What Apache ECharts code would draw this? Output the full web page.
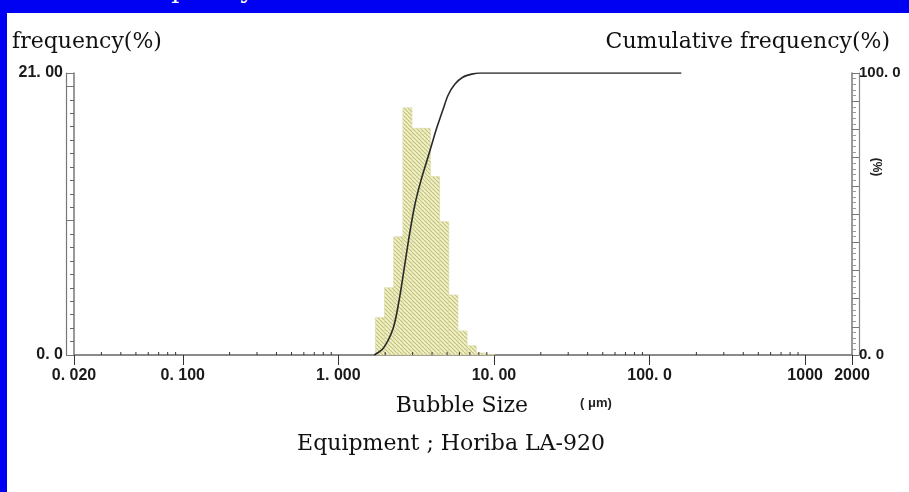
<!DOCTYPE html>
<html><head><meta charset="utf-8">
<script src="https://cdn.jsdelivr.net/npm/echarts@6/dist/echarts.min.js"></script>
<style>
html,body{margin:0;padding:0;width:909px;height:492px;overflow:hidden;background:#0000f2;}
#cut{position:absolute;left:30px;top:-23px;font:25px 'DejaVu Serif';line-height:25px;color:#fff;white-space:nowrap;}
#paper{position:absolute;left:7px;top:13px;width:902px;height:479px;background:#fff;}
#chart{position:absolute;left:0;top:0;width:909px;height:492px;}
</style></head><body>
<div id="cut">Bubble frequency distribution</div>
<div id="paper"></div>
<div id="chart"></div>
<script>
// ---- data ----
const binLower = [1.729, 1.981, 2.269, 2.599, 2.976, 3.409, 3.905, 4.472, 5.122, 5.867, 6.720, 7.697, 8.816];
const binUpper = [1.981, 2.269, 2.599, 2.976, 3.409, 3.905, 4.472, 5.122, 5.867, 6.720, 7.697, 8.816, 10.097];
const freq     = [2.78, 5.01, 8.81, 18.41, 16.88, 16.88, 13.30, 9.93, 4.47, 1.79, 0.69, 0.15, 0.05];
const cumSize  = [1.70, 1.95, 2.25, 2.45, 2.65, 2.85, 3.10, 3.40, 3.69, 4.00, 4.28, 4.70, 5.08, 5.60, 6.30, 7.20, 8.20, 160];
const cumValue = [0, 2.5, 9.5, 19, 30.7, 42, 53.2, 62, 68.5, 75, 80.4, 87, 92.2, 96, 98.5, 99.6, 100, 100];
const xTickValues = [0.02, 0.1, 1, 10, 100, 1000, 2000];
const xTickLabels = ['0. 020', '0. 100', '1. 000', '10. 00', '100. 0', '1000', '2000'];
const minorTickValues = [0.03,0.04,0.05,0.06,0.07,0.08,0.09,
  0.2,0.3,0.4,0.5,0.6,0.7,0.8,0.9,
  2,3,4,5,6,7,8,9,
  20,30,40,50,60,70,80,90,
  200,300,400,500,600,700,800,900];
const leftTickLabels = {0: '0. 0', 21: '21. 00'};
const rightTickLabels = {0: '0. 0', 100: '100. 0'};

// ---- hatch pattern ----
function makeHatch() {
  const c = document.createElement('canvas');
  c.width = 4; c.height = 4;
  const g = c.getContext('2d');
  g.fillStyle = '#f2f2c8'; g.fillRect(0, 0, 4, 4);
  g.strokeStyle = '#c0c07a'; g.lineWidth = 1.1;
  [-4, 0, 4].forEach(k => { g.beginPath(); g.moveTo(k, 0); g.lineTo(k + 4, 4); g.stroke(); });
  return c;
}
const hatch = {image: makeHatch(), repeat: 'repeat'};

const tickFont = "'Liberation Sans',Arimo,'Noto Sans',sans-serif";
const serif = "'DejaVu Serif','Liberation Serif',serif";

function xLabel(v) {
  for (let i = 0; i < xTickValues.length; i++) {
    if (Math.abs(Math.log10(v) - Math.log10(xTickValues[i])) < 1e-6) return xTickLabels[i];
  }
  return '';
}

const chart = echarts.init(document.getElementById('chart'), null, {renderer: 'canvas'});
chart.setOption({
  backgroundColor: 'transparent',
  animation: false,
  title: [
    {text: 'frequency(%)', left: 12, top: 31, padding: 0,
     textStyle: {fontFamily: serif, fontSize: 22, fontWeight: 'normal', color: '#111'}},
    {text: 'Cumulative frequency(%)', right: 19, top: 31, padding: 0,
     textStyle: {fontFamily: serif, fontSize: 22, fontWeight: 'normal', color: '#111'}},
    {text: 'Bubble Size', left: 462, top: 395, padding: 0, textAlign: 'center',
     textStyle: {fontFamily: serif, fontSize: 22, fontWeight: 'normal', color: '#111'}},
    {text: '( μm)', left: 580, top: 397, padding: 0,
     textStyle: {fontFamily: tickFont, fontSize: 13, fontWeight: 'bold', color: '#222'}},
    {text: 'Equipment ; Horiba LA-920', left: 451, top: 433, padding: 0, textAlign: 'center',
     textStyle: {fontFamily: serif, fontSize: 22, fontWeight: 'normal', color: '#111'}}
  ],
  graphic: [
    {type: 'text', x: 876, y: 167, rotation: -Math.PI / 2,
     style: {text: '(%)', font: "bold 12px 'Liberation Sans'", fill: '#222', align: 'center', verticalAlign: 'middle'}}
  ],
  grid: {left: 74, right: 57, top: 73, bottom: 137, outerBoundsMode: 'none', containLabel: false},
  xAxis: [
    {type: 'log', logBase: 10, min: 0.02, max: 2000, position: 'bottom',
     axisLine: {lineStyle: {color: '#333', width: 1.5}},
     axisTick: {length: 10, lineStyle: {color: '#333'}},
     axisLabel: {formatter: xLabel, interval: 0, showMinLabel: true, showMaxLabel: true, margin: 13,
                 fontFamily: tickFont, fontSize: 16, fontWeight: 'bold', color: '#1a1a1a'},
     splitLine: {show: false}},
    {type: 'log', logBase: 10, min: 0.02, max: 2000, position: 'top',
     axisLine: {lineStyle: {color: '#8a8a8a', width: 2}},
     axisTick: {show: false}, axisLabel: {show: false}, splitLine: {show: false}}
  ],
  yAxis: [
    {type: 'value', min: 0, max: 21, interval: 1, position: 'left',
     axisLine: {show: true, lineStyle: {color: '#777', width: 1.5}},
     axisTick: {length: 4, lineStyle: {color: '#666'}},
     axisLabel: {formatter: v => leftTickLabels[v] || '', margin: 11,
                 fontFamily: tickFont, fontSize: 16, fontWeight: 'bold', color: '#1a1a1a'},
     splitLine: {show: false}},
    {type: 'value', min: 0, max: 100, interval: 10, position: 'right',
     axisLine: {show: true, lineStyle: {color: '#777', width: 1.5}},
     axisTick: {length: 7, lineStyle: {color: '#777'}},
     minorTick: {show: true, splitNumber: 5, length: 4, lineStyle: {color: '#999'}},
     axisLabel: {formatter: v => rightTickLabels[v] || '', margin: 7,
                 fontFamily: tickFont, fontSize: 15, fontWeight: 'bold', color: '#1a1a1a'},
     splitLine: {show: false}},
    {type: 'value', min: 0, max: 21, interval: 10, position: 'left', offset: 8,
     axisLine: {show: true, lineStyle: {color: '#777', width: 1.2}},
     axisTick: {inside: true, length: 8, lineStyle: {color: '#777'}},
     axisLabel: {show: false}, splitLine: {show: false}},
    {type: 'value', min: 0, max: 100, position: 'right', offset: 7,
     axisLine: {show: true, lineStyle: {color: '#888', width: 1.2}},
     axisTick: {show: false}, axisLabel: {show: false}, splitLine: {show: false}}
  ],
  series: [
    {type: 'custom', xAxisIndex: 0, yAxisIndex: 0,
     data: binLower.map((lo, i) => [lo, binUpper[i], freq[i]]),
     encode: {x: [0, 1], y: 2},
     renderItem: function (params, api) {
       const p0 = api.coord([api.value(0), api.value(2)]);
       const p1 = api.coord([api.value(1), 0]);
       return {type: 'rect',
               shape: {x: p0[0], y: p0[1], width: p1[0] - p0[0], height: p1[1] - p0[1]},
               style: {fill: hatch, stroke: '#d8d8a8', lineWidth: 0.6}};
     }},
    {type: 'custom', xAxisIndex: 0, yAxisIndex: 0, z: 5,
     data: minorTickValues.map(v => [v, 0]),
     encode: {x: 0, y: 1},
     renderItem: function (params, api) {
       const p = api.coord([api.value(0), 0]);
       return {type: 'line', shape: {x1: p[0], y1: p[1], x2: p[0], y2: p[1] - 3},
               style: {stroke: '#333', lineWidth: 1}};
     }},
    {type: 'line', xAxisIndex: 0, yAxisIndex: 1, z: 6,
     data: cumSize.map((s, i) => [s, cumValue[i]]),
     smooth: 0.3, symbol: 'none',
     lineStyle: {color: '#2a2a2a', width: 1.6}}
  ]
});
</script>
</body></html>
